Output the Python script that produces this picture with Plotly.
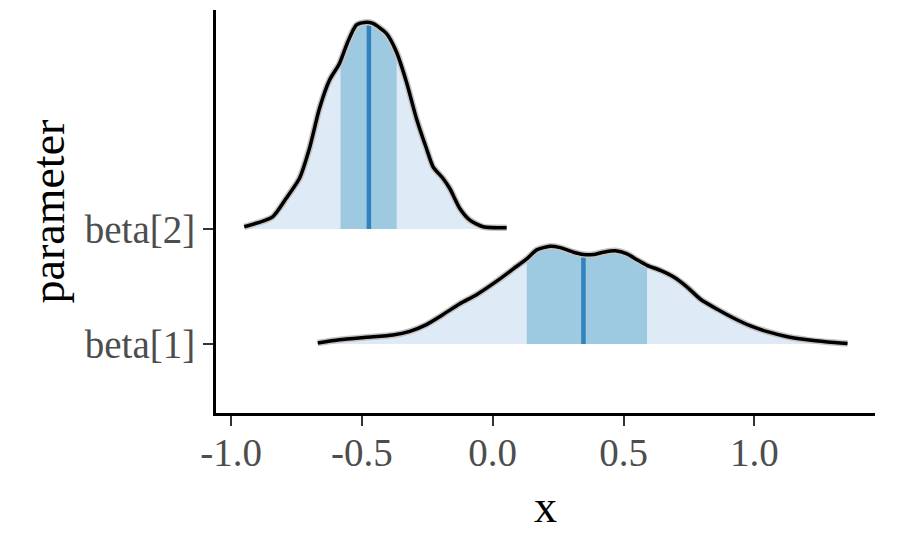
import numpy as np
import plotly.graph_objects as go

# ---- data ----
param_labels = ["beta[1]", "beta[2]"]
param_pos = [1, 2]

b1_x = [-0.6686, -0.5854, -0.4831, -0.3812, -0.3172, -0.2533, -0.1897, -0.1257, -0.0617,
        0.0276, 0.0785, 0.1299, 0.1682, 0.2192, 0.2575, 0.3084, 0.3467, 0.3851, 0.4234,
        0.4682, 0.5130, 0.5513, 0.5897, 0.6406, 0.6916, 0.7429, 0.7939, 0.8579, 0.9215,
        0.9854, 1.0494, 1.1261, 1.2027, 1.2793, 1.3559]
b1_d = [0.009, 0.037, 0.058, 0.078, 0.110, 0.169, 0.256, 0.350, 0.429,
        0.566, 0.653, 0.740, 0.818, 0.850, 0.838, 0.798, 0.778, 0.778, 0.798,
        0.810, 0.784, 0.732, 0.684, 0.640, 0.582, 0.495, 0.389, 0.302, 0.224,
        0.157, 0.107, 0.063, 0.036, 0.018, 0.005]
b1_interval = [0.1299, 0.5897]
b1_median = 0.3467

b2_x = [-0.9494, -0.8410, -0.7897, -0.7387, -0.7004, -0.6621, -0.6238, -0.5854, -0.5536,
        -0.5215, -0.4897, -0.4579, -0.4065, -0.3682, -0.3299, -0.2916, -0.2533, -0.2280,
        -0.1897, -0.1640, -0.1257, -0.0874, -0.0364, 0.0533]
b2_d = [0.019, 0.106, 0.265, 0.439, 0.700, 1.048, 1.294, 1.439, 1.628,
        1.772, 1.796, 1.787, 1.700, 1.541, 1.280, 0.961, 0.700, 0.541,
        0.439, 0.352, 0.178, 0.077, 0.019, 0.010]
b2_interval = [-0.5816, -0.3670]
b2_median = -0.4732

x_ticks = [-1.0, -0.5, 0.0, 0.5, 1.0]
x_ticktext = ["-1.0", "-0.5", "0.0", "0.5", "1.0"]

# ---- styles ----
OUTER = "#DEEBF7"
INNER = "#9ECAE1"
MED = "#3182BD"
FONT = "Liberation Serif"

fig = go.Figure()

series = [
    (b1_x, b1_d, b1_interval, b1_median, param_pos[0]),
    (b2_x, b2_d, b2_interval, b2_median, param_pos[1]),
]

for xs, ds, (lo, hi), med, base in series:
    xs = np.array(xs)
    ds = np.array(ds)
    # outer area
    px = np.concatenate([[xs[0]], xs, [xs[-1]]])
    py = np.concatenate([[base], base + ds, [base]])
    fig.add_trace(go.Scatter(x=px, y=py, mode="lines", fill="toself", fillcolor=OUTER,
                             line=dict(width=0, shape="spline", smoothing=0.6),
                             hoverinfo="skip", showlegend=False))
    # inner interval
    m = (xs > lo) & (xs < hi)
    ix = np.concatenate([[lo, lo], xs[m], [hi, hi]])
    iy = np.concatenate([[base, base + np.interp(lo, xs, ds)], base + ds[m],
                         [base + np.interp(hi, xs, ds), base]])
    fig.add_trace(go.Scatter(x=ix, y=iy, mode="lines", fill="toself", fillcolor=INNER,
                             line=dict(width=0), hoverinfo="skip", showlegend=False))
    # median
    fig.add_trace(go.Scatter(x=[med, med], y=[base, base + np.interp(med, xs, ds)],
                             mode="lines", line=dict(color=MED, width=4.5),
                             hoverinfo="skip", showlegend=False))
    # outline halo + line
    fig.add_trace(go.Scatter(x=xs, y=base + ds, mode="lines",
                             line=dict(color="#C4C4C4", width=6.5, shape="spline", smoothing=0.6),
                             hoverinfo="skip", showlegend=False))
    fig.add_trace(go.Scatter(x=xs, y=base + ds, mode="lines",
                             line=dict(color="black", width=3.5, shape="spline", smoothing=0.6),
                             hoverinfo="skip", showlegend=False))

fig.update_layout(
    width=900, height=556,
    margin=dict(l=216, r=25, t=10, b=143),
    paper_bgcolor="white", plot_bgcolor="white",
    font=dict(family=FONT, size=39, color="#4D4D4D"),
    showlegend=False,
    xaxis=dict(range=[-1.0574, 1.4608], tickvals=x_ticks, ticktext=x_ticktext,
               showgrid=False, zeroline=False, showline=True, linecolor="black",
               linewidth=3, ticks="outside", ticklen=10, tickwidth=2, tickcolor="#333333",
               ticklabelstandoff=-7,
               tickfont=dict(family=FONT, size=39, color="#4D4D4D")),
    yaxis=dict(range=[0.4, 3.904], tickvals=param_pos, ticktext=param_labels,
               showgrid=False, zeroline=False, showline=True, linecolor="black",
               linewidth=3, ticks="outside", ticklen=10, tickwidth=2, tickcolor="#333333",
               tickfont=dict(family=FONT, size=39, color="#4D4D4D")),
    annotations=[
        dict(text="x", x=0.5, y=0, xref="paper", yref="paper", yanchor="middle",
             xanchor="center", yshift=-93, showarrow=False,
             font=dict(family=FONT, size=46, color="black")),
        dict(text="parameter", x=0, y=0.5, xref="paper", yref="paper", xanchor="center",
             yanchor="middle", xshift=-168, textangle=-90, showarrow=False,
             font=dict(family=FONT, size=46, color="black")),
    ],
)

fig.write_html("out.html")
